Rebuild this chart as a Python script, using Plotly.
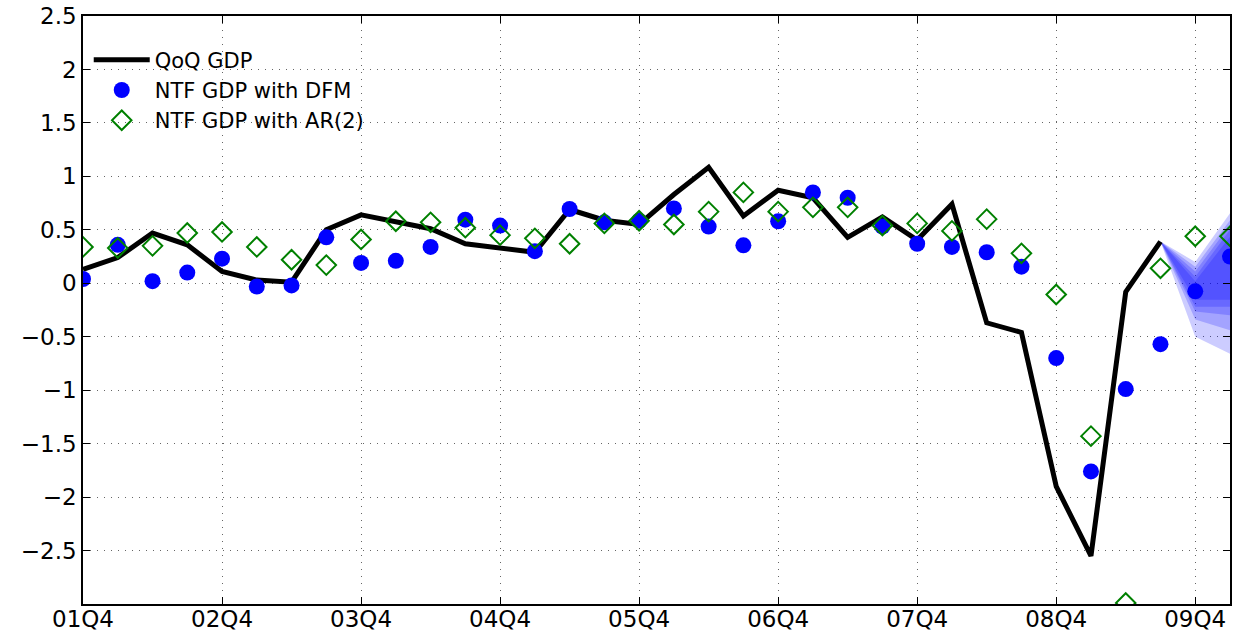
import plotly.graph_objects as go

# Quarter categories 01Q4 .. 10Q1
quarters = ["01Q4"] + [f"{y:02d}Q{q}" for y in range(2, 10) for q in range(1, 5)] + ["10Q1"]
tick_labels = ["01Q4", "02Q4", "03Q4", "04Q4", "05Q4", "06Q4", "07Q4", "08Q4", "09Q4"]
y_ticks = [-2.5, -2, -1.5, -1, -0.5, 0, 0.5, 1, 1.5, 2, 2.5]

# QoQ GDP (01Q4 .. 09Q3)
qoq_gdp = [0.13, 0.24, 0.47, 0.36, 0.11, 0.03, 0.01, 0.50, 0.64, 0.57,
           0.51, 0.37, 0.33, 0.29, 0.69, 0.59, 0.55, 0.83, 1.085, 0.63,
           0.87, 0.80, 0.43, 0.62, 0.405, 0.74, -0.37, -0.46, -1.90, -2.55,
           -0.08, 0.39]

# NTF GDP with DFM (01Q4 .. 10Q1)
ntf_dfm = [0.04, 0.36, 0.02, 0.10, 0.23, -0.03, -0.02, 0.43, 0.19, 0.21,
           0.34, 0.595, 0.54, 0.30, 0.695, 0.57, 0.585, 0.70, 0.53, 0.355,
           0.58, 0.85, 0.80, 0.53, 0.37, 0.34, 0.29, 0.155, -0.70, -1.76,
           -0.99, -0.57, -0.075, 0.25]

# NTF GDP with AR(2) (01Q4 .. 10Q1)
ntf_ar2 = [0.34, 0.33, 0.35, 0.47, 0.48, 0.34, 0.22, 0.17, 0.41, 0.58,
           0.57, 0.52, 0.45, 0.42, 0.37, 0.56, 0.585, 0.55, 0.67, 0.85,
           0.67, 0.71, 0.71, 0.54, 0.56, 0.49, 0.60, 0.28, -0.105, -1.43,
           -2.99, 0.14, 0.44, 0.44]

# Fan chart bands (outer -> inner), values at 09Q4 and 10Q1, starting from last GDP value
fan_quarters = ["09Q3", "09Q4", "10Q1"]
fan_upper = [[0.20, 0.655], [0.155, 0.59], [0.11, 0.545], [0.06, 0.50], [0.02, 0.435]]
fan_lower = [[-0.50, -0.66], [-0.34, -0.44], [-0.265, -0.30], [-0.22, -0.22], [-0.155, -0.155]]

FONT = "DejaVu Sans, Verdana, sans-serif"

fig = go.Figure()

anchor = qoq_gdp[-1]
for up, lo in zip(fan_upper, fan_lower):
    xs = [fan_quarters[0], fan_quarters[1], fan_quarters[2], fan_quarters[2], fan_quarters[1], fan_quarters[0]]
    ys = [anchor, up[0], up[1], lo[1], lo[0], anchor]
    fig.add_trace(go.Scatter(x=xs, y=ys, mode="lines", fill="toself",
                             fillcolor="rgba(0,0,255,0.2)", line=dict(width=0),
                             showlegend=False, hoverinfo="skip"))

fig.add_trace(go.Scatter(x=quarters[:len(qoq_gdp)], y=qoq_gdp, mode="lines",
                         name="QoQ GDP", line=dict(color="black", width=5)))
fig.add_trace(go.Scatter(x=quarters, y=ntf_dfm, mode="markers",
                         name="NTF GDP with DFM",
                         marker=dict(symbol="circle", size=16, color="#0000ff",
                                     line=dict(width=0))))
fig.add_trace(go.Scatter(x=quarters, y=ntf_ar2, mode="markers",
                         name="NTF GDP with AR(2)",
                         marker=dict(symbol="diamond-open", size=15, color="#008000",
                                     line=dict(width=2, color="#008000"))))

grid = dict(showgrid=True, gridcolor="#666666", griddash="1px,6px", gridwidth=1,
            showline=True, linecolor="black", linewidth=1.5, mirror="ticks",
            ticks="inside", ticklen=7, tickcolor="black", zeroline=False,
            automargin=False, tickfont=dict(family=FONT, size=23, color="black"))

fig.update_layout(
    width=1244, height=635,
    margin=dict(l=83, r=14, t=16, b=31),
    paper_bgcolor="white", plot_bgcolor="white",
    font=dict(family=FONT, size=23, color="black"),
    legend=dict(x=0.005, y=0.96, xanchor="left", yanchor="top",
                bgcolor="rgba(0,0,0,0)", font=dict(family=FONT, size=21, color="black"),
                itemwidth=56, tracegroupgap=0),
    xaxis=dict(type="category", categoryorder="array", categoryarray=quarters,
               range=[0, len(quarters) - 1], tickmode="array", tickvals=tick_labels,
               **grid),
    yaxis=dict(range=[-3, 2.5], tickmode="array", tickvals=y_ticks, **grid),
)

# Pull the x tick labels a little closer to the axis if allowed
try:
    fig.update_xaxes(ticklabelstandoff=-6)
except Exception:
    fig.update_xaxes(tickfont=dict(size=21))

# Remove the default page margin so the figure fills the window exactly.
fig.write_html("out.html",
               config={"displayModeBar": False},
               post_script="document.body.style.margin='0';document.body.style.overflow='hidden';")
